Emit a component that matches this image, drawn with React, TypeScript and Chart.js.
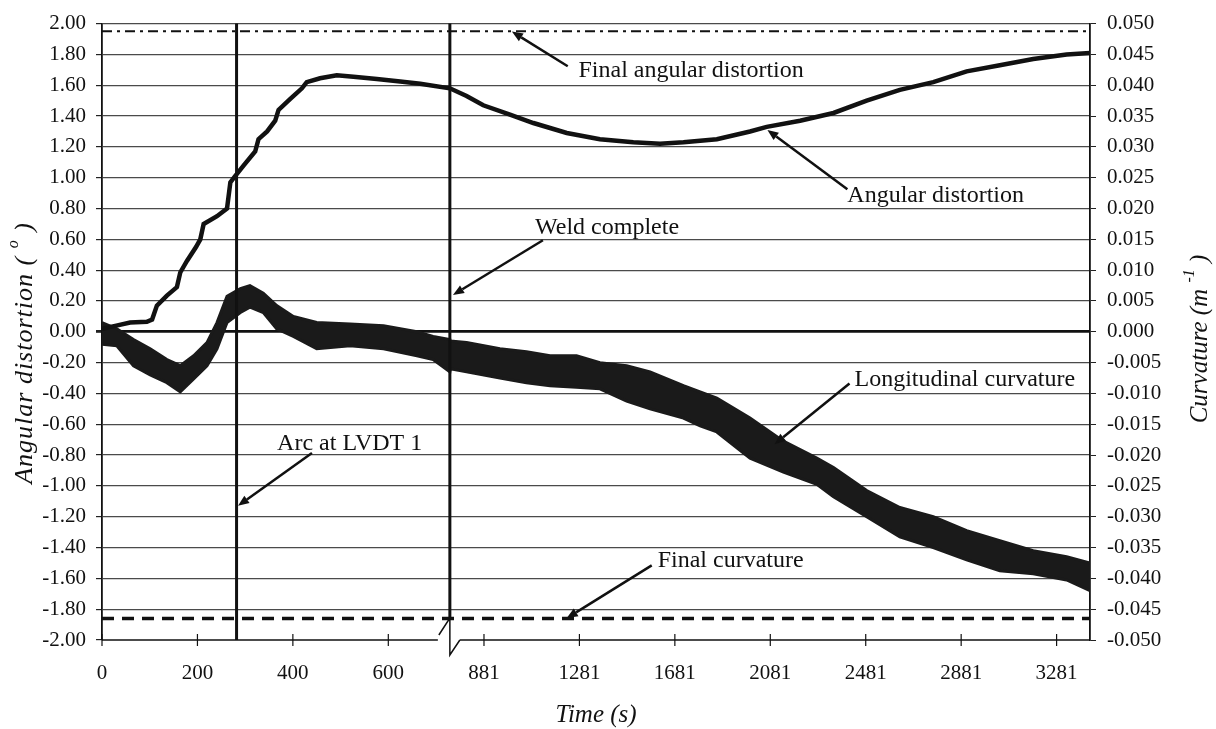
import React, { useEffect, useRef } from "react";
import { Chart, registerables } from "chart.js";

Chart.register(...registerables);

const FONT = "'Liberation Serif', 'Times New Roman', Times, serif";

// ---- Angular distortion (degrees, left axis) ----
const ANGULAR_TIME = [
  0, 30, 59, 94, 105, 115, 136, 157, 164, 178, 197, 206, 213, 241, 262, 269, 279, 297, 321, 328,
  346, 363, 370, 394, 419, 429, 457, 492, 527, 576, 625, 667, 729, 808, 878, 990, 1088, 1228,
  1367, 1507, 1619, 1717, 1857, 1996, 2066, 2206, 2346, 2485, 2624, 2764, 2904, 3043, 3183,
  3323, 3421,
];
const ANGULAR_DEG = [
  0.02, 0.04, 0.06, 0.065, 0.08, 0.17, 0.235, 0.29, 0.385, 0.46, 0.55, 0.6, 0.7, 0.75, 0.8, 0.97,
  1.01, 1.08, 1.17, 1.25, 1.3, 1.37, 1.44, 1.51, 1.58, 1.62, 1.645, 1.665, 1.655, 1.64, 1.625,
  1.61, 1.58, 1.53, 1.47, 1.41, 1.355, 1.29, 1.25, 1.23, 1.22, 1.23, 1.25, 1.3, 1.33, 1.37,
  1.42, 1.5, 1.57, 1.62, 1.69, 1.73, 1.77, 1.8, 1.81,
];

// ---- Longitudinal curvature (m^-1, right axis): upper / lower envelope of the noisy band ----
const CURV_TIME = [
  0, 31, 66, 101, 136, 164, 192, 220, 241, 262, 290, 310, 338, 366, 401, 450, 520, 590, 660, 694,
  729, 740, 808, 948, 1059, 1158, 1269, 1367, 1479, 1577, 1717, 1787, 1857, 1996, 2136, 2276,
  2346, 2485, 2624, 2764, 2904, 3043, 3183, 3323, 3421,
];
const CURV_UPPER = [
  0.0015, 0.0005, -0.00125, -0.00275, -0.0045, -0.0055, -0.00388, -0.00175, 0.0015, 0.00575,
  0.007, 0.0075, 0.00625, 0.00425, 0.0025, 0.0015, 0.00125, 0.001, 0.0, -0.00075, -0.00125,
  -0.0015, -0.00175, -0.00275, -0.00325, -0.00388, -0.00388, -0.005, -0.0055, -0.0065, -0.00875,
  -0.00975, -0.01075, -0.014, -0.01775, -0.0205, -0.022, -0.02575, -0.0285, -0.03, -0.03225,
  -0.03388, -0.0355, -0.0365, -0.0375,
];
const CURV_LOWER = [
  -0.002, -0.00225, -0.0055, -0.007, -0.00825, -0.00975, -0.00763, -0.0055, -0.00275, 0.0015,
  0.00313, 0.004, 0.00313, 0.0005, -0.00075, -0.00275, -0.00225, -0.00275, -0.00388, -0.0045,
  -0.0065, -0.006, -0.0065, -0.0075, -0.00825, -0.00875, -0.009, -0.00925, -0.01125, -0.0125,
  -0.014, -0.01525, -0.01625, -0.0205, -0.02275, -0.02475, -0.02675, -0.03, -0.03325, -0.035,
  -0.037, -0.03875, -0.03925, -0.04025, -0.042,
];

// ---- Reference values ----
const FINAL_ANGULAR_DEG = 1.95;
const FINAL_CURVATURE = -0.0465;
const ARC_LVDT_TIME = 282;
const WELD_COMPLETE_TIME = 730;

// ---- Axis ticks ----
const X_TICK_TIMES = [0, 200, 400, 600, 881, 1281, 1681, 2081, 2481, 2881, 3281];
const X_TICK_LABELS = ["0", "200", "400", "600", "881", "1281", "1681", "2081", "2481", "2881", "3281"];
const Y_LEFT_TICKS = [
  -2, -1.8, -1.6, -1.4, -1.2, -1, -0.8, -0.6, -0.4, -0.2, 0, 0.2, 0.4, 0.6, 0.8, 1, 1.2, 1.4, 1.6, 1.8, 2,
];
const Y_RIGHT_TICKS = [
  -0.05, -0.045, -0.04, -0.035, -0.03, -0.025, -0.02, -0.015, -0.01, -0.005, 0, 0.005, 0.01, 0.015,
  0.02, 0.025, 0.03, 0.035, 0.04, 0.045, 0.05,
];

// ---- Annotations (time, left-axis value) ----
const ANNOTATIONS = [
  { text: "Final angular distortion", tT: 1277, tV: 1.697, fT: 1232, fV: 1.723, aT: 998, aV: 1.948 },
  { text: "Angular distortion", tT: 2404, tV: 0.884, fT: 2404, fV: 0.925, aT: 2069, aV: 1.31 },
  { text: "Weld complete", tT: 1095, tV: 0.677, fT: 1128, fV: 0.594, aT: 751, aV: 0.239 },
  { text: "Arc at LVDT 1", tT: 367, tV: -0.723, fT: 440, fV: -0.787, aT: 285, aV: -1.129 },
  { text: "Longitudinal curvature", tT: 2434, tV: -0.31, fT: 2413, fV: -0.335, aT: 2099, aV: -0.729 },
  { text: "Final curvature", tT: 1609, tV: -1.484, fT: 1584, fV: -1.516, aT: 1228, aV: -1.858 },
];

// Broken time axis: full scale up to the break, half scale after it.
const BREAK_TIME = 729;
const RESUME_TIME = 738;
const POST_BREAK_SCALE = 0.5;
const X_MAX_TIME = 3421;
function axisPos(t: number): number {
  return t <= BREAK_TIME ? t : BREAK_TIME + Math.max(0, t - RESUME_TIME) * POST_BREAK_SCALE;
}

type Seg = { text: string; sup?: boolean };

function drawRich(
  ctx: CanvasRenderingContext2D,
  segs: Seg[],
  cx: number,
  cy: number,
  size: number,
  spacing: number
) {
  ctx.save();
  ctx.translate(cx, cy);
  ctx.rotate(-Math.PI / 2);
  ctx.textBaseline = "middle";
  ctx.textAlign = "left";
  ctx.fillStyle = "#111";
  (ctx as any).letterSpacing = `${spacing}px`;
  const fontFor = (s: Seg) => `italic ${s.sup ? Math.round(size * 0.62) : size}px ${FONT}`;
  const widths = segs.map((s) => {
    ctx.font = fontFor(s);
    return ctx.measureText(s.text).width;
  });
  const total = widths.reduce((a, b) => a + b, 0);
  let x = -total / 2;
  segs.forEach((s, i) => {
    ctx.font = fontFor(s);
    ctx.fillText(s.text, x, s.sup ? -size * 0.42 : 0);
    x += widths[i];
  });
  ctx.restore();
}

const overlayPlugin = {
  id: "overlay",
  afterDatasetsDraw(chart: any) {
    const { ctx, chartArea, scales } = chart;
    const xs = scales.x;
    const ys = scales.y;
    const px = (t: number) => xs.getPixelForValue(axisPos(t));
    const py = (v: number) => ys.getPixelForValue(v);
    const bottom = chartArea.bottom;
    const seg = (x1: number, y1: number, x2: number, y2: number) => {
      ctx.beginPath();
      ctx.moveTo(x1, y1);
      ctx.lineTo(x2, y2);
      ctx.stroke();
    };
    ctx.save();
    ctx.strokeStyle = "#111";
    ctx.lineCap = "butt";
    // vertical event lines
    ctx.lineWidth = 3;
    const arcX = px(ARC_LVDT_TIME);
    seg(arcX, chartArea.top, arcX, bottom);
    const weldX = px(WELD_COMPLETE_TIME);
    seg(weldX, chartArea.top, weldX, bottom - 22);
    // bottom axis with break
    ctx.lineWidth = 1.5;
    seg(chartArea.left, bottom, weldX - 12, bottom);
    seg(weldX + 10, bottom, chartArea.right, bottom);
    ctx.beginPath();
    ctx.moveTo(weldX - 11, bottom - 5);
    ctx.lineTo(weldX, bottom - 22);
    ctx.lineTo(weldX, bottom + 15);
    ctx.lineTo(weldX + 10, bottom);
    ctx.stroke();
    // x tick marks crossing axis
    ctx.lineWidth = 1.2;
    X_TICK_TIMES.forEach((t) => {
      const x = px(t);
      seg(x, bottom - 6, x, bottom + 6);
    });
    // annotations
    ctx.lineWidth = 2.5;
    ctx.fillStyle = "#111";
    ctx.font = `24px ${FONT}`;
    ctx.textBaseline = "middle";
    ctx.textAlign = "left";
    ANNOTATIONS.forEach((a) => {
      ctx.fillText(a.text, px(a.tT), py(a.tV));
      const x1 = px(a.fT), y1 = py(a.fV), x2 = px(a.aT), y2 = py(a.aV);
      const ang = Math.atan2(y2 - y1, x2 - x1);
      const head = 11;
      const hx = x2 - head * Math.cos(ang), hy = y2 - head * Math.sin(ang);
      seg(x1, y1, hx, hy);
      ctx.beginPath();
      ctx.moveTo(x2, y2);
      ctx.lineTo(hx + 4.5 * Math.sin(ang), hy - 4.5 * Math.cos(ang));
      ctx.lineTo(hx - 4.5 * Math.sin(ang), hy + 4.5 * Math.cos(ang));
      ctx.closePath();
      ctx.fill();
    });
    ctx.restore();
  },
  afterDraw(chart: any) {
    const { ctx } = chart;
    drawRich(ctx, [{ text: "Angular distortion ( " }, { text: "o", sup: true }, { text: " )" }], 25, 353, 26, 1);
    drawRich(ctx, [{ text: "Curvature (m " }, { text: "-1", sup: true }, { text: " )" }], 1200, 339, 25, 0);
    ctx.save();
    ctx.fillStyle = "#111";
    ctx.font = `italic 25px ${FONT}`;
    ctx.textAlign = "center";
    ctx.textBaseline = "middle";
    const xs = chart.scales.x;
    ctx.fillText("Time (s)", (xs.left + xs.right) / 2, 715);
    ctx.restore();
  },
};

export default function App() {
  const ref = useRef<HTMLCanvasElement>(null);
  useEffect(() => {
    const canvas = ref.current;
    if (!canvas) return;
    const xy = (times: number[], vals: number[]) => times.map((t, i) => ({ x: axisPos(t), y: vals[i] }));
    const span = (v: number) => [
      { x: axisPos(0), y: v },
      { x: axisPos(X_MAX_TIME), y: v },
    ];
    const tickFmt = (digits: number) => (v: any) => (Math.abs(v) < 1e-9 ? (0).toFixed(digits) : Number(v).toFixed(digits));
    const chart = new Chart(canvas, {
      type: "line",
      data: {
        datasets: [
          {
            label: "Angular distortion",
            data: xy(ANGULAR_TIME, ANGULAR_DEG),
            yAxisID: "y",
            borderColor: "#111",
            borderWidth: 4.5,
            pointRadius: 0,
            tension: 0,
            fill: false,
          },
          {
            label: "Final angular distortion",
            data: span(FINAL_ANGULAR_DEG),
            yAxisID: "y",
            borderColor: "#111",
            borderWidth: 2,
            borderDash: [10, 5, 3, 5],
            pointRadius: 0,
            fill: false,
          },
          {
            label: "Final curvature",
            data: span(FINAL_CURVATURE),
            yAxisID: "y1",
            borderColor: "#111",
            borderWidth: 3.5,
            borderDash: [12, 8],
            pointRadius: 0,
            fill: false,
          },
          {
            label: "Curvature upper",
            data: xy(CURV_TIME, CURV_UPPER),
            yAxisID: "y1",
            borderColor: "#1a1a1a",
            borderWidth: 3,
            pointRadius: 0,
            fill: false,
          },
          {
            label: "Longitudinal curvature",
            data: xy(CURV_TIME, CURV_LOWER),
            yAxisID: "y1",
            borderColor: "#1a1a1a",
            backgroundColor: "#1a1a1a",
            borderWidth: 3,
            pointRadius: 0,
            fill: "-1",
          },
        ],
      },
      options: {
        responsive: false,
        animation: false,
        layout: { padding: { top: 20, left: 0, right: 0, bottom: 0 } },
        plugins: { legend: { display: false }, tooltip: { enabled: false } },
        scales: {
          x: {
            type: "linear",
            min: axisPos(0),
            max: axisPos(X_MAX_TIME),
            border: { display: false },
            grid: { display: true, drawOnChartArea: false, drawTicks: false },
            afterBuildTicks: (s: any) => {
              s.ticks = X_TICK_TIMES.map((t) => ({ value: axisPos(t) }));
            },
            afterFit: (s: any) => {
              s.height = 89;
            },
            ticks: {
              autoSkip: false,
              maxRotation: 0,
              padding: 21,
              color: "#111",
              font: { family: FONT, size: 21 },
              callback: (_v: any, i: number) => X_TICK_LABELS[i],
            },
          },
          y: {
            type: "linear",
            position: "left",
            min: -2,
            max: 2,
            afterBuildTicks: (s: any) => {
              s.ticks = Y_LEFT_TICKS.map((v) => ({ value: v }));
            },
            afterFit: (s: any) => {
              s.width = 102;
            },
            border: { display: true, color: "#111", width: 1.8 },
            grid: {
              color: (c: any) => (Math.abs(c.tick.value + 2) < 1e-9 ? "rgba(0,0,0,0)" : Math.abs(c.tick.value) < 1e-9 ? "#111" : "#4a4a4a"),
              lineWidth: (c: any) => (Math.abs(c.tick.value) < 1e-9 ? 2.8 : 1.2),
              tickColor: "#222",
              tickLength: 6,
            },
            ticks: {
              autoSkip: false,
              padding: 10,
              color: "#111",
              font: { family: FONT, size: 21 },
              callback: tickFmt(2),
            },
          },
          y1: {
            type: "linear",
            position: "right",
            min: -0.05,
            max: 0.05,
            afterBuildTicks: (s: any) => {
              s.ticks = Y_RIGHT_TICKS.map((v) => ({ value: v }));
            },
            afterFit: (s: any) => {
              s.width = 126;
            },
            border: { display: true, color: "#111", width: 1.8 },
            grid: { drawOnChartArea: false, tickColor: "#222", tickLength: 6 },
            ticks: {
              autoSkip: false,
              padding: 11,
              color: "#111",
              font: { family: FONT, size: 21 },
              callback: tickFmt(3),
            },
          },
        },
      },
      plugins: [overlayPlugin],
    } as any);
    return () => chart.destroy();
  }, []);
  return (
    <div style={{ position: "absolute", left: 0, top: 0, width: 1216, height: 729, background: "#fff" }}>
      <canvas ref={ref} width={1216} height={729} style={{ display: "block", width: 1216, height: 729 }} />
    </div>
  );
}
